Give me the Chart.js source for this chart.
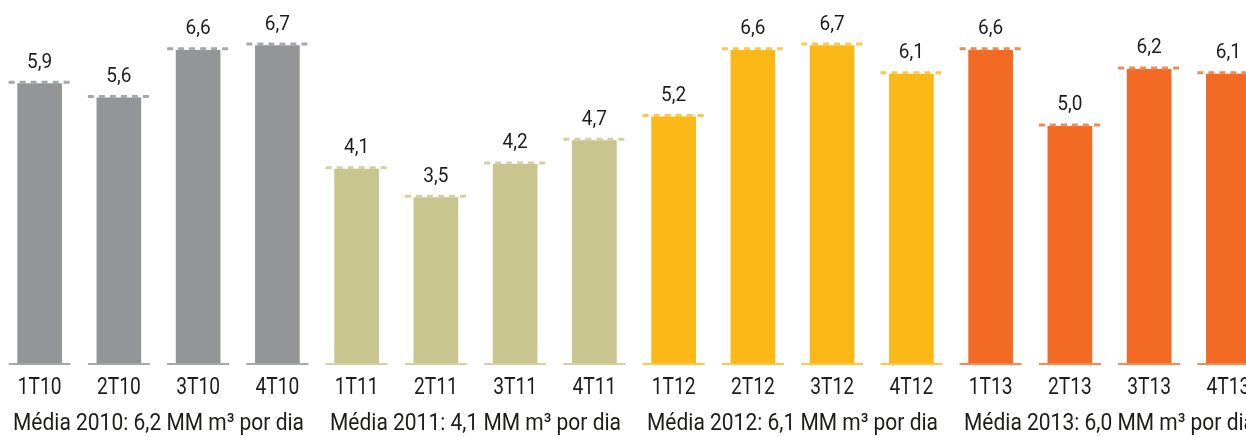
<!DOCTYPE html>
<html>
<head>
<meta charset="utf-8">
<script src="https://cdn.jsdelivr.net/npm/chart.js@4"></script>
<style>
    html, body { margin: 0; padding: 0; background: #ffffff; overflow: hidden; }
    #wrap { width: 1246px; height: 437px; overflow: hidden; }
</style>
</head>
<body>
<div id="wrap"><canvas id="myChart" width="1268" height="437"></canvas></div>
<script>
/*----------------------------------------------------------------------------*/
/* Data                                                                       */
/*----------------------------------------------------------------------------*/
const labels = ['1T10', '2T10', '3T10', '4T10',
                '1T11', '2T11', '3T11', '4T11',
                '1T12', '2T12', '3T12', '4T12',
                '1T13', '2T13', '3T13', '4T13'];
const values = [5.9, 5.6, 6.6, 6.7,
                4.1, 3.5, 4.2, 4.7,
                5.2, 6.6, 6.7, 6.1,
                6.6, 5.0, 6.2, 6.1];
const group_labels = ['Média 2010: 6,2 MM m³ por dia',
                      'Média 2011: 4,1 MM m³ por dia',
                      'Média 2012: 6,1 MM m³ por dia',
                      'Média 2013: 6,0 MM m³ por dia'];

const bar_colors = ['#939598', '#c8c58e', '#fbb817', '#f26a24'];
const dash_colors = ['#a6a8ab', '#d3d0a2', '#fcc84a', '#f58a50'];
const font_family = 'Roboto, "DejaVu Sans Condensed", sans-serif';

function group_of(i) {
    return Math.floor(i / 4);
}

// draws text squeezed horizontally, to get close to a condensed face
// (squeeze > 2 means: fit the text to that many pixels wide)
function narrow_text(ctx, text, x, y, size, squeeze) {
    ctx.save();
    ctx.font = size + 'px ' + font_family;
    ctx.textAlign = 'center';
    ctx.textBaseline = 'middle';
    if (squeeze > 2) {
        squeeze = squeeze / ctx.measureText(text).width;
    }
    ctx.translate(x, y);
    ctx.scale(squeeze, 1);
    ctx.fillText(text, 0, 0);
    ctx.restore();
}

/*----------------------------------------------------------------------------*/
/* Plugin: dashed tops, baselines, labels                                     */
/*----------------------------------------------------------------------------*/
const decorations = {
    id: 'decorations',
    afterDatasetsDraw(chart) {
        const ctx = chart.ctx;
        const meta = chart.getDatasetMeta(0);
        const x_scale = chart.scales.x;
        const bottom = chart.chartArea.bottom;

        ctx.save();
        ctx.fillStyle = '#1d1d1b';
        meta.data.forEach(function (bar, i) {
            const g = group_of(i);

            // dashed line sitting on the bar top
            ctx.strokeStyle = dash_colors[g];
            ctx.lineWidth = 3;
            ctx.setLineDash([6, 5]);
            ctx.beginPath();
            ctx.moveTo(bar.x - 31, bar.y - 1.5);
            ctx.lineTo(bar.x + 31, bar.y - 1.5);
            ctx.stroke();

            // base line
            ctx.setLineDash([]);
            ctx.lineWidth = 2;
            ctx.beginPath();
            ctx.moveTo(bar.x - 31, bottom);
            ctx.lineTo(bar.x + 31, bottom);
            ctx.stroke();

            // value label
            narrow_text(ctx, values[i].toFixed(1).replace('.', ','), bar.x, bar.y - 21, 20, 0.95);

            // category label
            narrow_text(ctx, labels[i], bar.x, 388, 24, 0.8);
        });

        // group labels
        for (let g = 0; g < group_labels.length; g++) {
            const x0 = x_scale.getPixelForValue(g * 4);
            const x1 = x_scale.getPixelForValue(g * 4 + 3);
            narrow_text(ctx, group_labels[g], (x0 + x1) / 2, 424, 24, 291);
        }
        ctx.restore();
    }
};

/*----------------------------------------------------------------------------*/
/* Bar Chart                                                                  */
/*----------------------------------------------------------------------------*/
const data = {
    labels: labels,
    datasets: [{
        data: values,
        backgroundColor: values.map((v, i) => bar_colors[group_of(i)]),
        borderWidth: 0,
        barThickness: 44
    }]
};

const config = {
    type: 'bar',
    data: data,
    options: {
        responsive: false,
        animation: false,
        layout: { padding: { top: 0, bottom: 73, left: 0, right: 0 } },
        plugins: {
            legend: { display: false },
            tooltip: { enabled: false }
        },
        scales: {
            x: { display: false, offset: true },
            y: { display: false, min: 0, max: 7.66 }
        }
    },
    plugins: [decorations]
};

const ctx = document.getElementById('myChart').getContext('2d');
const myBarChart = new Chart(ctx, config);
</script>
</body>
</html>
